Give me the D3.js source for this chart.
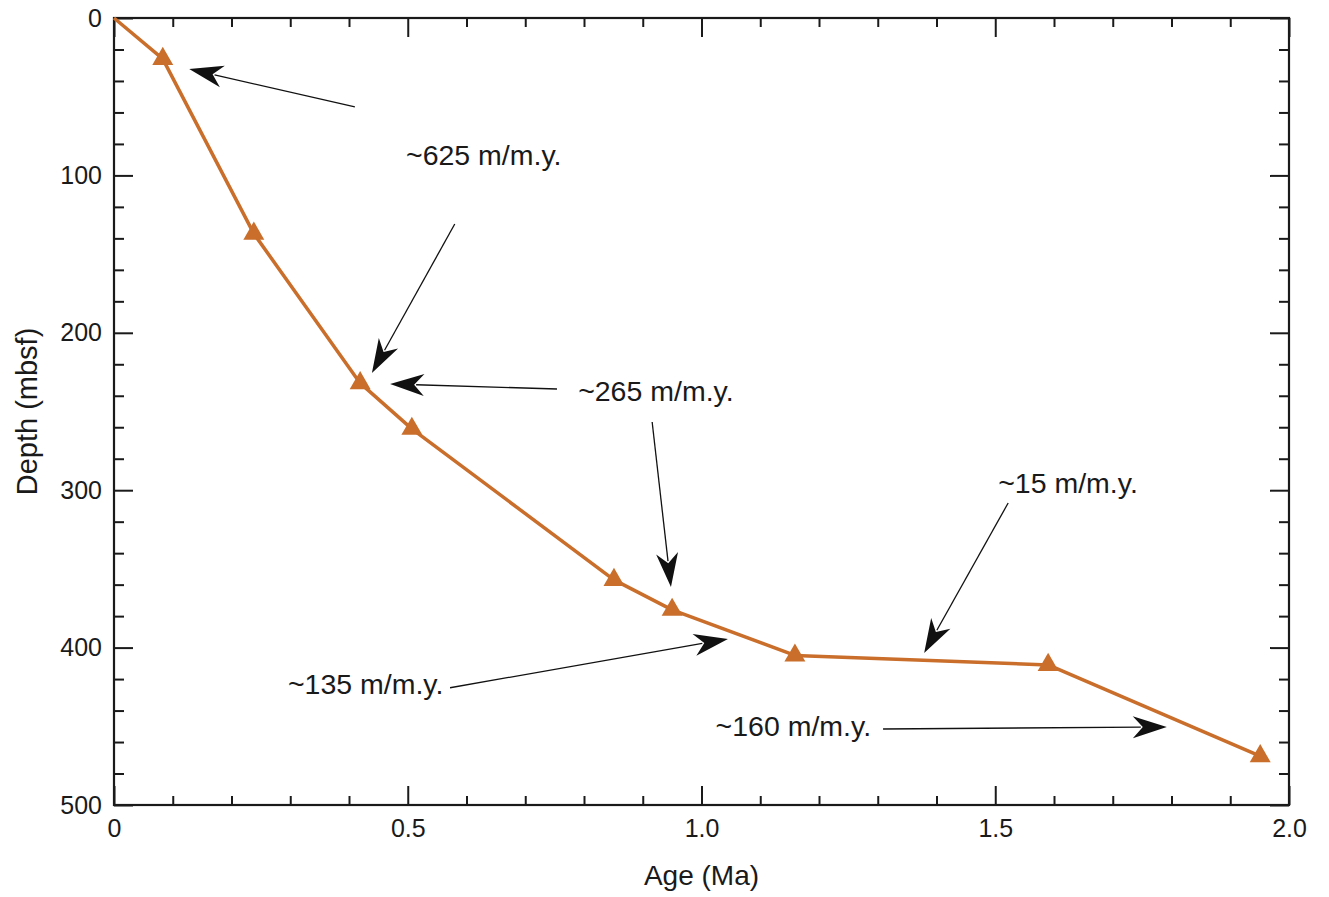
<!DOCTYPE html>
<html>
<head>
<meta charset="utf-8">
<script src="https://cdn.jsdelivr.net/npm/d3@7"></script>
<style>
  body { margin: 0; background: #fff; }
  text { font-family: "Liberation Sans", Arial, Helvetica, sans-serif; fill: #1a1a1a; }
</style>
</head>
<body>
<div id="chart"></div>
<script>
// age-depth data (Ma, mbsf)
var ages   = [0, 0.083, 0.238, 0.419, 0.507, 0.851, 0.950, 1.159, 1.590, 1.951];
var depths = [0, 26,    137,   232,   261,   357,   376,   405,   411,   469];

var xMajor = [0, 0.5, 1.0, 1.5, 2.0];
var yMajor = [0, 100, 200, 300, 400, 500];

// sedimentation-rate labels and their arrows (data units)
var rateLabels = ["~625 m/m.y.", "~265 m/m.y.", "~15 m/m.y.", "~135 m/m.y.", "~160 m/m.y."];
var labelAge   = [0.497, 0.790, 1.505, 0.296, 1.024];
var labelDepth = [93.5, 243.5, 302, 429.5, 456];

var arrowFromAge   = [0.410, 0.580, 0.754, 0.916, 1.522, 0.572, 1.309];
var arrowFromDepth = [56.5, 130.9, 235.7, 256.7, 308.1, 425.5, 451.7];
var arrowToAge     = [0.128, 0.439, 0.470, 0.948, 1.379, 1.045, 1.792];
var arrowToDepth   = [32.4, 225.5, 232.5, 361.5, 403.4, 394.5, 450.4];

var svgWidth = 1329;
var svgHeight = 897;
var margin = { top: 18, right: 40, bottom: 92, left: 114 };
var width = 1289 - margin.left;
var height = 805 - margin.top;

var svg = d3.select("#chart")
  .append("svg")
  .attr("width", svgWidth)
  .attr("height", svgHeight);

var chartGroup = svg.append("g")
  .attr("transform", `translate(${margin.left}, ${margin.top})`);

var x = d3.scaleLinear().domain([0, 2]).range([0, width]);
var y = d3.scaleLinear().domain([0, 500]).range([0, height]);

var xMinor = d3.range(0, 2.0001, 0.1).filter(v => Math.abs(v * 2 - Math.round(v * 2)) > 1e-6);
var yMinor = d3.range(0, 500, 20).filter(v => v % 100 !== 0);

function styleAxis(g) {
  g.select(".domain").remove();
  g.selectAll(".tick line").attr("stroke", "#1a1a1a").attr("stroke-width", 2);
  g.selectAll(".tick text").attr("font-size", "25px").attr("fill", "#1a1a1a");
}

// bottom axis (labelled) + minor ticks
chartGroup.append("g")
  .attr("transform", `translate(0, ${height})`)
  .call(d3.axisBottom(x).tickValues(xMajor)
    .tickFormat(d => d === 0 ? "0" : d3.format(".1f")(d))
    .tickSizeInner(-19).tickSizeOuter(0).tickPadding(14))
  .call(styleAxis);

chartGroup.append("g")
  .attr("transform", `translate(0, ${height})`)
  .call(d3.axisBottom(x).tickValues(xMinor).tickFormat("").tickSizeInner(-9).tickSizeOuter(0))
  .call(styleAxis);

// top axis (mirror)
chartGroup.append("g")
  .call(d3.axisTop(x).tickValues(xMajor).tickFormat("").tickSizeInner(-19).tickSizeOuter(0))
  .call(styleAxis);
chartGroup.append("g")
  .call(d3.axisTop(x).tickValues(xMinor).tickFormat("").tickSizeInner(-9).tickSizeOuter(0))
  .call(styleAxis);

// left axis (labelled)
chartGroup.append("g")
  .call(d3.axisLeft(y).tickValues(yMajor).tickFormat(d3.format("d"))
    .tickSizeInner(-19).tickSizeOuter(0).tickPadding(12))
  .call(styleAxis);
chartGroup.append("g")
  .call(d3.axisLeft(y).tickValues(yMinor).tickFormat("").tickSizeInner(-10).tickSizeOuter(0))
  .call(styleAxis);

// right axis (mirror)
chartGroup.append("g")
  .attr("transform", `translate(${width}, 0)`)
  .call(d3.axisRight(y).tickValues(yMajor).tickFormat("").tickSizeInner(-19).tickSizeOuter(0))
  .call(styleAxis);
chartGroup.append("g")
  .attr("transform", `translate(${width}, 0)`)
  .call(d3.axisRight(y).tickValues(yMinor).tickFormat("").tickSizeInner(-10).tickSizeOuter(0))
  .call(styleAxis);

// frame
chartGroup.append("rect")
  .attr("x", 0).attr("y", 0)
  .attr("width", width).attr("height", height)
  .attr("fill", "none")
  .attr("stroke", "#1a1a1a")
  .attr("stroke-width", 2.2);

// axis titles
chartGroup.append("text")
  .attr("x", width / 2)
  .attr("y", height + 80)
  .attr("text-anchor", "middle")
  .attr("font-size", "28px")
  .text("Age (Ma)");

chartGroup.append("text")
  .attr("transform", `translate(${37 - margin.left}, ${height / 2}) rotate(-90)`)
  .attr("text-anchor", "middle")
  .attr("font-size", "29px")
  .text("Depth (mbsf)");

// age-depth line
var points = ages.map((a, i) => [a, depths[i]]);
var orange = "#c96e2b";

chartGroup.append("path")
  .datum(points)
  .attr("fill", "none")
  .attr("stroke", orange)
  .attr("stroke-width", 3.5)
  .attr("stroke-linejoin", "round")
  .attr("d", d3.line().x(d => x(d[0])).y(d => y(d[1])));

chartGroup.selectAll(".pt")
  .data(points.filter(d => d[1] > 0))
  .enter()
  .append("path")
  .attr("class", "pt")
  .attr("transform", d => `translate(${x(d[0])}, ${y(d[1])})`)
  .attr("d", d3.symbol().type(d3.symbolTriangle).size(190))
  .attr("fill", orange);

// arrows
var arrowL = 34, arrowW = 22, arrowN = 24;
arrowFromAge.forEach(function(a, i) {
  var x0 = x(a), y0 = y(arrowFromDepth[i]);
  var x1 = x(arrowToAge[i]), y1 = y(arrowToDepth[i]);
  var ang = Math.atan2(y1 - y0, x1 - x0);
  var xe = x1 - Math.cos(ang) * (arrowN + 2), ye = y1 - Math.sin(ang) * (arrowN + 2);
  chartGroup.append("line")
    .attr("x1", x0).attr("y1", y0)
    .attr("x2", xe).attr("y2", ye)
    .attr("stroke", "#111")
    .attr("stroke-width", 1.3);
  chartGroup.append("path")
    .attr("transform", `translate(${x1}, ${y1}) rotate(${ang * 180 / Math.PI})`)
    .attr("d", `M0,0 L${-arrowL},${-arrowW / 2} L${-arrowN},0 L${-arrowL},${arrowW / 2} Z`)
    .attr("fill", "#111");
});

// rate labels
chartGroup.selectAll(".rate")
  .data(rateLabels)
  .enter()
  .append("text")
  .attr("class", "rate")
  .attr("x", (d, i) => x(labelAge[i]))
  .attr("y", (d, i) => y(labelDepth[i]))
  .attr("font-size", "28.5px")
  .text(d => d);
</script>
</body>
</html>
